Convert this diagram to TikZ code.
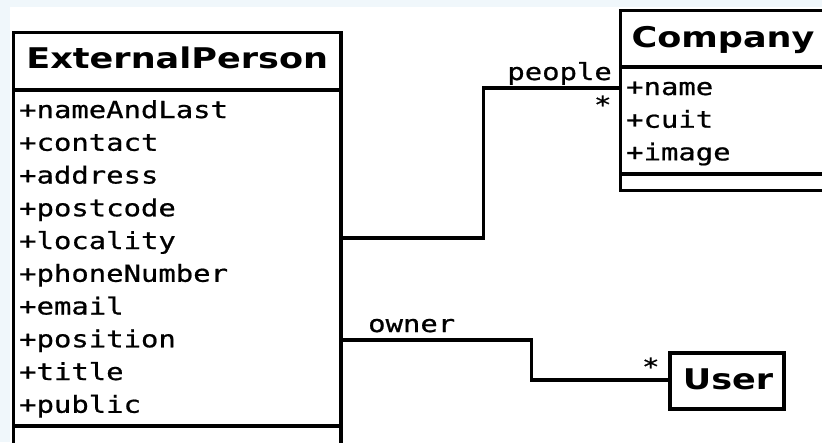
\documentclass[tikz,border=0pt]{standalone}
\usepackage{fontspec}
\newfontfamily\umlsans[FakeStretch=1.23]{DejaVu Sans}
\newfontfamily\umlmono[FakeStretch=1.23,FakeBold=0.8]{DejaVu Sans Mono}
\definecolor{bgblue}{RGB}{240,247,251}
\begin{document}
\begin{tikzpicture}[x=1pt,y=-1pt,
  box/.style={draw, line width=3.4pt, inner sep=0pt, outer sep=0pt, fill=white},
  sep/.style={line width=3.4pt},
  conn/.style={line width=3.4pt},
  ctitle/.style={inner sep=0pt, anchor=base, font=\umlsans\bfseries\fontsize{28.5}{30}\selectfont},
  attr/.style={inner sep=0pt, anchor=base west, font=\umlmono\fontsize{23.5}{25}\selectfont},
  role/.style={attr}]
\useasboundingbox (0,0) rectangle (822,442);
\fill[bgblue] (0,0) rectangle (822,7);
\fill[bgblue] (0,0) rectangle (10,442);

% class boxes
\node[box, minimum width=327.5pt, minimum height=417.5pt] (ext) at (177.25,241.25) {};
\node[box, minimum width=205pt, minimum height=180pt] (comp) at (723,100.5) {};
\node[box, minimum width=114pt, minimum height=56pt] (user) at (727,381) {};

% separators
\coordinate (es1) at (0,90);
\coordinate (es2) at (0,426);
\draw[sep] (ext.west |- es1) -- (ext.east |- es1);
\draw[sep] (ext.west |- es2) -- (ext.east |- es2);
\coordinate (cs1) at (0,67);
\coordinate (cs2) at (0,174);
\draw[sep] (comp.west |- cs1) -- (comp.east |- cs1);
\draw[sep] (comp.west |- cs2) -- (comp.east |- cs2);

% titles
\node[ctitle] (extT) at (177.25,68) {ExternalPerson};
\node[ctitle] (compT) at (723,47) {Company};
\node[ctitle] (userT) at (728,389) {User};

% attributes
\foreach \t [count=\i] in {nameAndLast,contact,address,postcode,locality,phoneNumber,email,position,title,public}
  \node[attr] (ea\i) at (19,{118+32.75*(\i-1)}) {+\t};
\foreach \t [count=\i] in {name,cuit,image}
  \node[attr] (ca\i) at (626,{95+32.7*(\i-1)}) {+\t};

% connectors
\coordinate (pb1) at (483.5,238);
\coordinate (pb2) at (483.5,88);
\draw[conn] (ext.east |- pb1) -- (pb1) -- (pb2) -- (comp.west |- pb2);
\coordinate (ob1) at (531.5,340);
\coordinate (ob2) at (531.5,380);
\draw[conn] (ext.east |- ob1) -- (ob1) -- (ob2) -- (user.west |- ob2);

% role labels and multiplicities
\node[role, anchor=base east] (pl) at (612,80) {people};
\node[role, anchor=base east] (pm) at (611.7,113) {*};
\node[role, anchor=base west] (ol) at (368,332) {owner};
\node[role, anchor=base east] (om) at (659.7,375) {*};
\end{tikzpicture}
\end{document}
